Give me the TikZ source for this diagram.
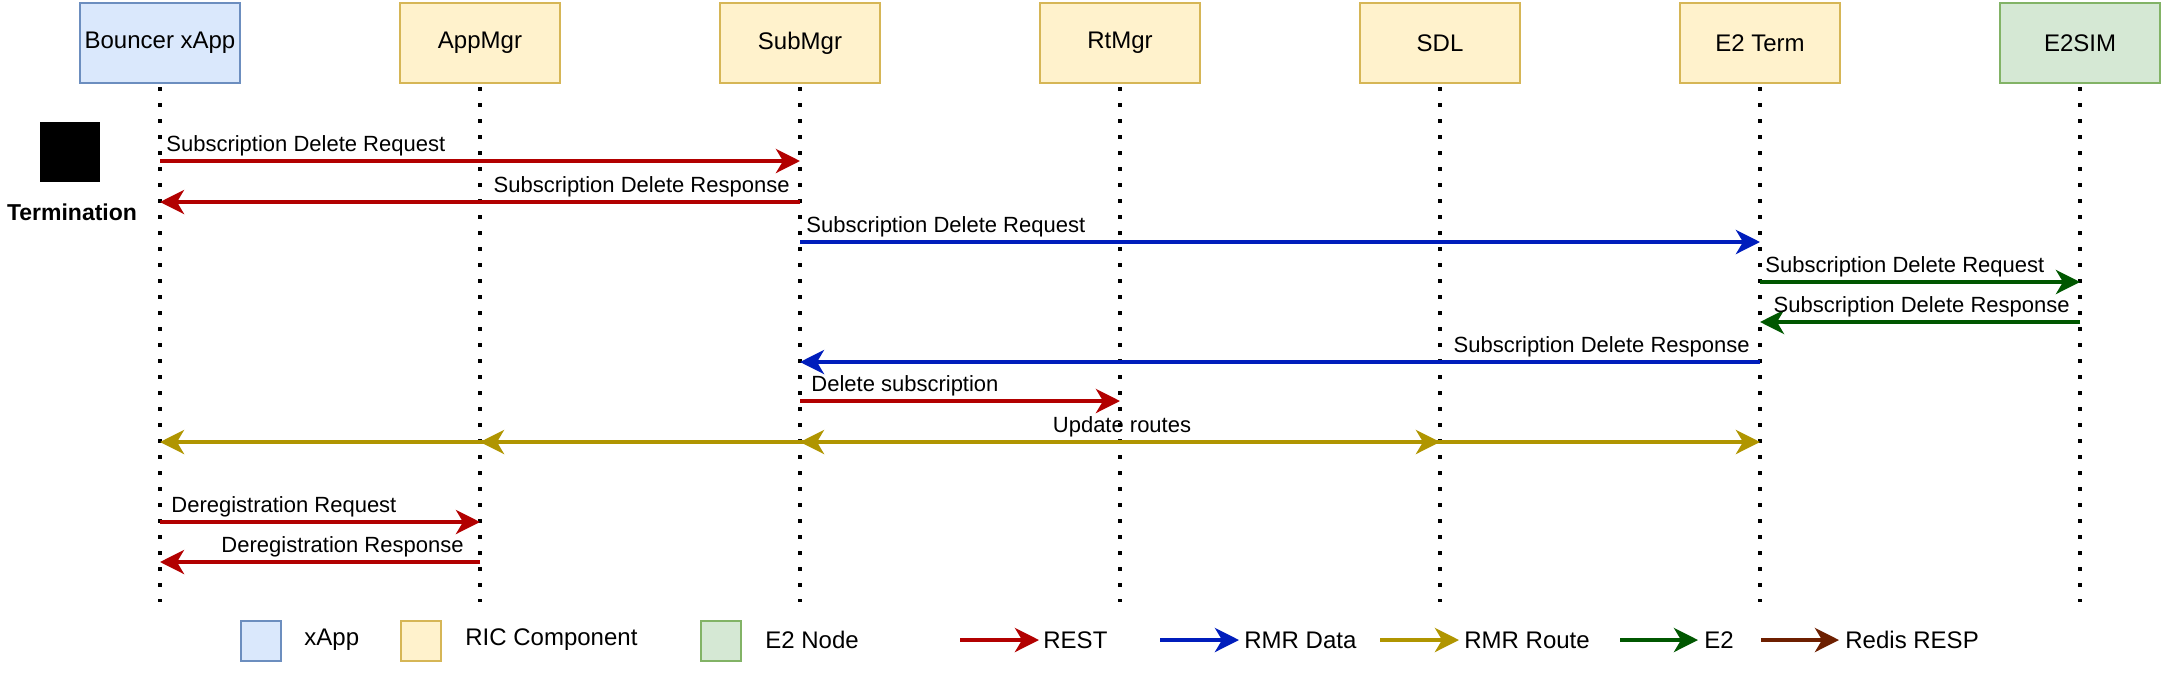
\documentclass[tikz,border=0pt]{standalone}
\usepackage{fontspec}
\setmainfont{Liberation Sans}
\usetikzlibrary{arrows.meta}
\definecolor{restc}{HTML}{B20000}
\definecolor{rmrdata}{HTML}{001DBC}
\definecolor{rmrroute}{HTML}{B09500}
\definecolor{etwo}{HTML}{005700}
\definecolor{redis}{HTML}{6D1F00}
\definecolor{xappfill}{HTML}{DAE8FC}
\definecolor{xappdraw}{HTML}{6C8EBF}
\definecolor{ricfill}{HTML}{FFF2CC}
\definecolor{ricdraw}{HTML}{D6B656}
\definecolor{nodefill}{HTML}{D5E8D4}
\definecolor{nodedraw}{HTML}{82B366}
\tikzset{
  actor/.style={draw, line width=1pt, minimum width=80pt, minimum height=40pt, inner sep=0pt, font=\fontsize{12}{14}\selectfont},
  xappbox/.style={fill=xappfill, draw=xappdraw},
  ricbox/.style={fill=ricfill, draw=ricdraw},
  e2box/.style={fill=nodefill, draw=nodedraw},
  legsq/.style={draw, line width=1pt, minimum width=20pt, minimum height=20pt, inner sep=0pt},
  legtxt/.style={anchor=west, inner sep=0pt, font=\fontsize{12}{14}\selectfont},
  lifeline/.style={line width=2pt, dash pattern=on 2pt off 6pt},
  msg/.style={line width=2pt, -{Stealth[length=12pt,width=12pt,inset=3.5pt]}},
  lbl/.style={inner sep=0pt, font=\fontsize{11}{13}\selectfont},
}
\begin{document}
\begin{tikzpicture}[x=0.5pt,y=-0.5pt]
\useasboundingbox (0,0) rectangle (2164,681);

% actors
\node[actor, xappbox] (b1) at (160,43) {Bouncer xApp};
\node[actor, ricbox] (b2) at (480,43) {AppMgr};
\node[actor, ricbox] (b3) at (800,43) {SubMgr};
\node[actor, ricbox] (b4) at (1120,43) {RtMgr};
\node[actor, ricbox] (b5) at (1440,43) {SDL};
\node[actor, ricbox] (b6) at (1760,43) {E2 Term};
\node[actor, e2box] (b7) at (2080,43) {E2SIM};

% lifeline ends
\foreach \i/\x in {1/160,2/480,3/800,4/1120,5/1440,6/1760,7/2080}{
  \coordinate (e\i) at (\x,602);
  \draw[lifeline] ([yshift=-1.5pt]b\i.south) -- (e\i);
}

% termination marker
\node[fill=black, minimum width=30pt, minimum height=30pt, inner sep=0pt] (term) at (70,152) {};
\node[inner sep=0pt, font=\bfseries\fontsize{11.5}{13}\selectfont] (termlbl) at (72,212) {Termination};

% messages
\draw[msg, restc] (b1 |- 0,161) -- (b3 |- 0,161);
\node[lbl, anchor=base west] (l1) at (166,151) {Subscription Delete Request};

\draw[msg, restc] (b3 |- 0,202) -- (b1 |- 0,202);
\node[lbl, anchor=base east] (l2) at (790,192) {Subscription Delete Response};

\draw[msg, rmrdata] (b3 |- 0,242) -- (b6 |- 0,242);
\node[lbl, anchor=base west] (l3) at (806,232) {Subscription Delete Request};

\draw[msg, etwo] (b6 |- 0,282) -- (b7 |- 0,282);
\node[lbl, anchor=base west] (l4) at (1765,272) {Subscription Delete Request};

\draw[msg, etwo] (b7 |- 0,322) -- (b6 |- 0,322);
\node[lbl, anchor=base east] (l5) at (2070,312) {Subscription Delete Response};

\draw[msg, rmrdata] (b6 |- 0,362) -- (b3 |- 0,362);
\node[lbl, anchor=base east] (l6) at (1750,352) {Subscription Delete Response};

\draw[msg, restc] (b3 |- 0,401) -- (b4 |- 0,401);
\node[lbl, anchor=base west] (l7) at (811,391) {Delete subscription};

\coordinate (ur) at (1120,442);
\foreach \t in {b1,b2,b3,b5,b6}{
  \draw[msg, rmrroute] (ur) -- (\t |- ur);
}
\node[lbl, anchor=base] (l8) at (1122,432) {Update routes};

\draw[msg, restc] (b1 |- 0,522) -- (b2 |- 0,522);
\node[lbl, anchor=base west] (l9) at (171,512) {Deregistration Request};

\draw[msg, restc] (b2 |- 0,562) -- (b1 |- 0,562);
\node[lbl, anchor=base east] (l10) at (464,552) {Deregistration Response};

% legend
\node[legsq, xappbox] (sq1) at (261,641) {};
\node[legtxt] (t1) at (304,640) {xApp};
\node[legsq, ricbox] (sq2) at (421,641) {};
\node[legtxt] (t2) at (465,640) {RIC Component};
\node[legsq, e2box] (sq3) at (721,641) {};
\node[legtxt] (t3) at (765,640) {E2 Node};

\coordinate (a1s) at (960,640); \coordinate (a1e) at (1039,640);
\draw[msg, restc] (a1s) -- (a1e);
\node[legtxt] (t4) at (1043,640) {REST};
\coordinate (a2s) at (1160,640); \coordinate (a2e) at (1239,640);
\draw[msg, rmrdata] (a2s) -- (a2e);
\node[legtxt] (t5) at (1244,640) {RMR Data};
\coordinate (a3s) at (1380,640); \coordinate (a3e) at (1459,640);
\draw[msg, rmrroute] (a3s) -- (a3e);
\node[legtxt] (t6) at (1464,640) {RMR Route};
\coordinate (a4s) at (1620,640); \coordinate (a4e) at (1698,640);
\draw[msg, etwo] (a4s) -- (a4e);
\node[legtxt] (t7) at (1704,640) {E2};
\coordinate (a5s) at (1761,640); \coordinate (a5e) at (1839,640);
\draw[msg, redis] (a5s) -- (a5e);
\node[legtxt] (t8) at (1845,640) {Redis RESP};
\end{tikzpicture}
\end{document}
